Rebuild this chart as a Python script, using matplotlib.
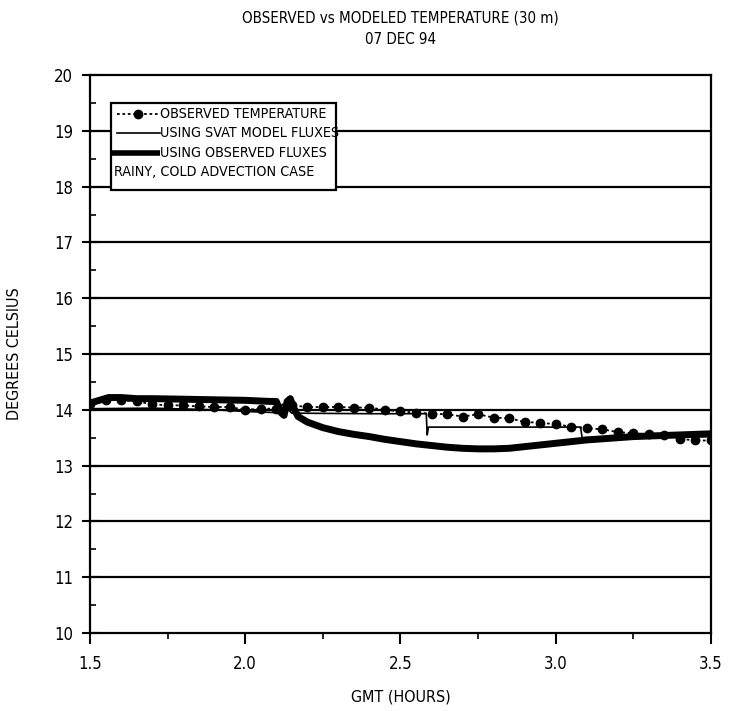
import numpy as np
import matplotlib
matplotlib.use("Agg")
import matplotlib.pyplot as plt
from matplotlib.lines import Line2D
from matplotlib.patches import Rectangle

plt.rcParams['font.family'] = ['DejaVu Sans']
plt.rcParams['font.stretch'] = 'condensed'

# Observed temperature, sampled every 0.05 h
obs_t = [1.50, 1.55, 1.60, 1.65, 1.70, 1.75, 1.80, 1.85, 1.90, 1.95,
         2.00, 2.05, 2.10, 2.15, 2.20, 2.25, 2.30, 2.35, 2.40, 2.45,
         2.50, 2.55, 2.60, 2.65, 2.70, 2.75, 2.80, 2.85, 2.90, 2.95,
         3.00, 3.05, 3.10, 3.15, 3.20, 3.25, 3.30, 3.35, 3.40, 3.45, 3.50]
obs_temp = [14.10, 14.18, 14.18, 14.15, 14.10, 14.08, 14.08, 14.06, 14.05, 14.05,
            14.00, 14.02, 14.02, 14.08, 14.05, 14.05, 14.05, 14.04, 14.04, 14.00,
            13.97, 13.95, 13.93, 13.92, 13.88, 13.92, 13.86, 13.85, 13.78, 13.77,
            13.74, 13.70, 13.67, 13.65, 13.60, 13.58, 13.56, 13.55, 13.48, 13.45, 13.45]

# Model run using SVAT model fluxes
svat_t = [1.50, 1.70, 1.90, 2.00, 2.10, 2.12, 2.15, 2.40, 2.583, 2.586, 2.59,
          3.08, 3.085, 3.30, 3.50]
svat_temp = [14.02, 14.03, 14.00, 13.97, 13.95, 14.10, 13.94, 13.93, 13.93, 13.55, 13.69,
             13.69, 13.50, 13.52, 13.52]

# Model run using observed fluxes
flux_t = [1.50, 1.53, 1.56, 1.60, 1.65, 1.70, 1.80, 1.90, 2.00, 2.08, 2.10,
          2.115, 2.125, 2.135, 2.145, 2.155, 2.17, 2.20, 2.25, 2.30, 2.35,
          2.40, 2.45, 2.50, 2.55, 2.60, 2.65, 2.70, 2.75, 2.80, 2.85,
          2.90, 2.95, 3.00, 3.05, 3.10, 3.15, 3.20, 3.25, 3.30, 3.35,
          3.40, 3.45, 3.50]
flux_temp = [14.12, 14.17, 14.22, 14.22, 14.20, 14.20, 14.19, 14.18, 14.17, 14.15, 14.15,
             13.95, 13.90, 14.15, 14.20, 14.05, 13.88, 13.78, 13.68, 13.61, 13.56,
             13.52, 13.47, 13.43, 13.39, 13.36, 13.33, 13.31, 13.30, 13.30, 13.31,
             13.34, 13.37, 13.40, 13.43, 13.46, 13.48, 13.50, 13.52, 13.53, 13.54,
             13.55, 13.56, 13.57]

legend_labels = ["OBSERVED TEMPERATURE", "USING SVAT MODEL FLUXES",
                 "USING OBSERVED FLUXES", "RAINY, COLD ADVECTION CASE"]


def main():
    fig = plt.figure(figsize=(7.37, 7.11), dpi=100)
    ax = fig.add_axes([0.1221, 0.1097, 0.8426, 0.7848])

    for y in range(11, 20):
        ax.axhline(y, color='black', lw=1.6, zorder=1)

    ax.plot(flux_t, flux_temp, color='black', lw=5, solid_capstyle='butt', zorder=3)
    ax.plot(svat_t, svat_temp, color='black', lw=1.2, zorder=4)
    ax.plot(obs_t, obs_temp, color='black', ls=(0, (1.5, 1.5)), lw=1.3,
            marker='o', ms=6, zorder=5)

    ax.set_xlim(1.5, 3.5)
    ax.set_ylim(10, 20)
    ax.set_xticks([1.5, 2.0, 2.5, 3.0, 3.5])
    ax.set_xticklabels(["1.5", "2.0", "2.5", "3.0", "3.5"])
    ax.set_xticks([1.75, 2.25, 2.75, 3.25], minor=True)
    ax.set_yticks(range(10, 21))
    ax.set_yticks(np.arange(10.5, 20, 1.0), minor=True)
    ax.tick_params(axis='x', which='major', direction='out', length=8, width=1.5,
                   labelsize=12, pad=8)
    ax.tick_params(axis='x', which='minor', direction='out', length=4, width=1.2)
    ax.tick_params(axis='y', which='major', direction='inout', length=12, width=1.5,
                   labelsize=12, pad=6)
    ax.tick_params(axis='y', which='minor', direction='in', length=4, width=1.2)
    for s in ax.spines.values():
        s.set_linewidth(1.6)

    ax.set_xlabel("GMT (HOURS)", fontsize=11.5, labelpad=12)
    ax.set_ylabel("DEGREES CELSIUS", fontsize=11.5, labelpad=23)
    ax.set_title("OBSERVED vs MODELED TEMPERATURE (30 m)\n07 DEC 94", fontsize=10.8,
                 linespacing=1.55, pad=22)

    # hand-drawn legend box as in the original
    x0, x1, y0, y1 = 0.034, 0.396, 0.794, 0.950
    ax.add_patch(Rectangle((x0, y0), x1 - x0, y1 - y0, transform=ax.transAxes,
                           fill=True, facecolor='white', edgecolor='black', lw=1.6, zorder=6))
    rows = [0.931, 0.896, 0.861, 0.826]
    hx0, hx1 = x0 + 0.010, x0 + 0.078
    ax.add_line(Line2D([hx0, hx1], [rows[0]] * 2, transform=ax.transAxes, color='black',
                       ls=(0, (1.5, 1.5)), lw=1.3, zorder=7))
    ax.add_line(Line2D([(hx0 + hx1) / 2], [rows[0]], transform=ax.transAxes, color='black',
                       marker='o', ms=6, zorder=7))
    ax.add_line(Line2D([hx0, hx1], [rows[1]] * 2, transform=ax.transAxes, color='black',
                       lw=1.2, zorder=7))
    ax.add_line(Line2D([x0, hx1], [rows[2]] * 2, transform=ax.transAxes, color='black',
                       lw=4, solid_capstyle='butt', zorder=7))
    for i, lab in enumerate(legend_labels):
        tx = x0 + 0.004 if i == 3 else hx1 + 0.001
        ax.text(tx, rows[i], lab, transform=ax.transAxes,
                fontsize=10.3, va='center', ha='left', zorder=8)

    fig.savefig("out.png", dpi=100)


if __name__ == "__main__":
    main()
